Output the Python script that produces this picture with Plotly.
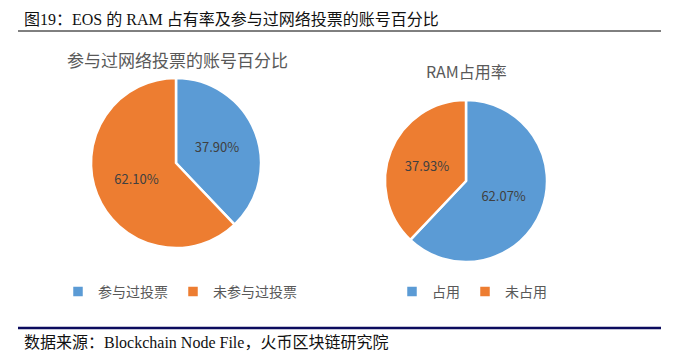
import plotly.graph_objects as go

# Data
vote_labels = ["参与过投票", "未参与过投票"]
vote_values = [37.90, 62.10]
ram_labels = ["占用", "未占用"]
ram_values = [62.07, 37.93]
colors = ["#5B9BD5", "#ED7D31"]

W, H = 677, 356
CJK = "Noto Sans CJK SC"
SERIF = "Liberation Serif, Noto Sans CJK SC"

def px_x(x):
    return x / W

def px_y(y):
    return 1 - y / H

fig = go.Figure()

fig.add_trace(go.Pie(
    labels=vote_labels, values=vote_values, sort=False, direction="clockwise", rotation=0,
    marker=dict(colors=colors, line=dict(color="white", width=2.5)),
    texttemplate="%{value:.2f}%", textposition="inside", insidetextorientation="horizontal",
    textfont=dict(family=CJK, size=13, color="#404040"),
    domain=dict(x=[px_x(91), px_x(261)], y=[px_y(248), px_y(78)]),
    legend="legend", hoverinfo="label+value",
))
fig.add_trace(go.Pie(
    labels=ram_labels, values=ram_values, sort=False, direction="clockwise", rotation=0,
    marker=dict(colors=colors, line=dict(color="white", width=2.5)),
    texttemplate="%{value:.2f}%", textposition="inside", insidetextorientation="horizontal",
    textfont=dict(family=CJK, size=13, color="#404040"),
    domain=dict(x=[px_x(385), px_x(547)], y=[px_y(262), px_y(100)]),
    legend="legend2", hoverinfo="label+value",
))

legend_common = dict(orientation="h", yanchor="middle", xanchor="center",
                     font=dict(family=CJK, size=14, color="#595959"),
                     itemwidth=30, bgcolor="rgba(0,0,0,0)", itemclick=False)

fig.update_layout(
    width=W, height=H,
    margin=dict(l=0, r=0, t=0, b=0),
    paper_bgcolor="white", plot_bgcolor="white",
    showlegend=True,
    legend=dict(x=px_x(180), y=px_y(292), **legend_common),
    legend2=dict(x=px_x(472), y=px_y(292), **legend_common),
    annotations=[
        dict(text="图19：EOS 的 RAM 占有率及参与过网络投票的账号百分比", x=px_x(22), y=px_y(19),
             xref="paper", yref="paper", xanchor="left", yanchor="middle", showarrow=False,
             font=dict(family=SERIF, size=16, color="#111111")),
        dict(text="参与过网络投票的账号百分比", x=px_x(177), y=px_y(60),
             xref="paper", yref="paper", xanchor="center", yanchor="middle", showarrow=False,
             font=dict(family=CJK, size=17, color="#595959")),
        dict(text="RAM占用率", x=px_x(467), y=px_y(71),
             xref="paper", yref="paper", xanchor="center", yanchor="middle", showarrow=False,
             font=dict(family=CJK, size=16, color="#595959")),
        dict(text="数据来源：Blockchain Node File，火币区块链研究院", x=px_x(22), y=px_y(342),
             xref="paper", yref="paper", xanchor="left", yanchor="middle", showarrow=False,
             font=dict(family=SERIF, size=16, color="#111111")),
    ],
    shapes=[
        dict(type="line", xref="paper", yref="paper", x0=px_x(18), x1=px_x(661),
             y0=px_y(31), y1=px_y(31), line=dict(color="#000000", width=1)),
        dict(type="line", xref="paper", yref="paper", x0=px_x(18), x1=px_x(661),
             y0=px_y(328), y1=px_y(328), line=dict(color="#0B0B5E", width=2.5)),
    ],
)

fig.write_html("out.html", config={"displayModeBar": False},
               post_script="document.body.style.margin='0';document.body.style.overflow='hidden';")
